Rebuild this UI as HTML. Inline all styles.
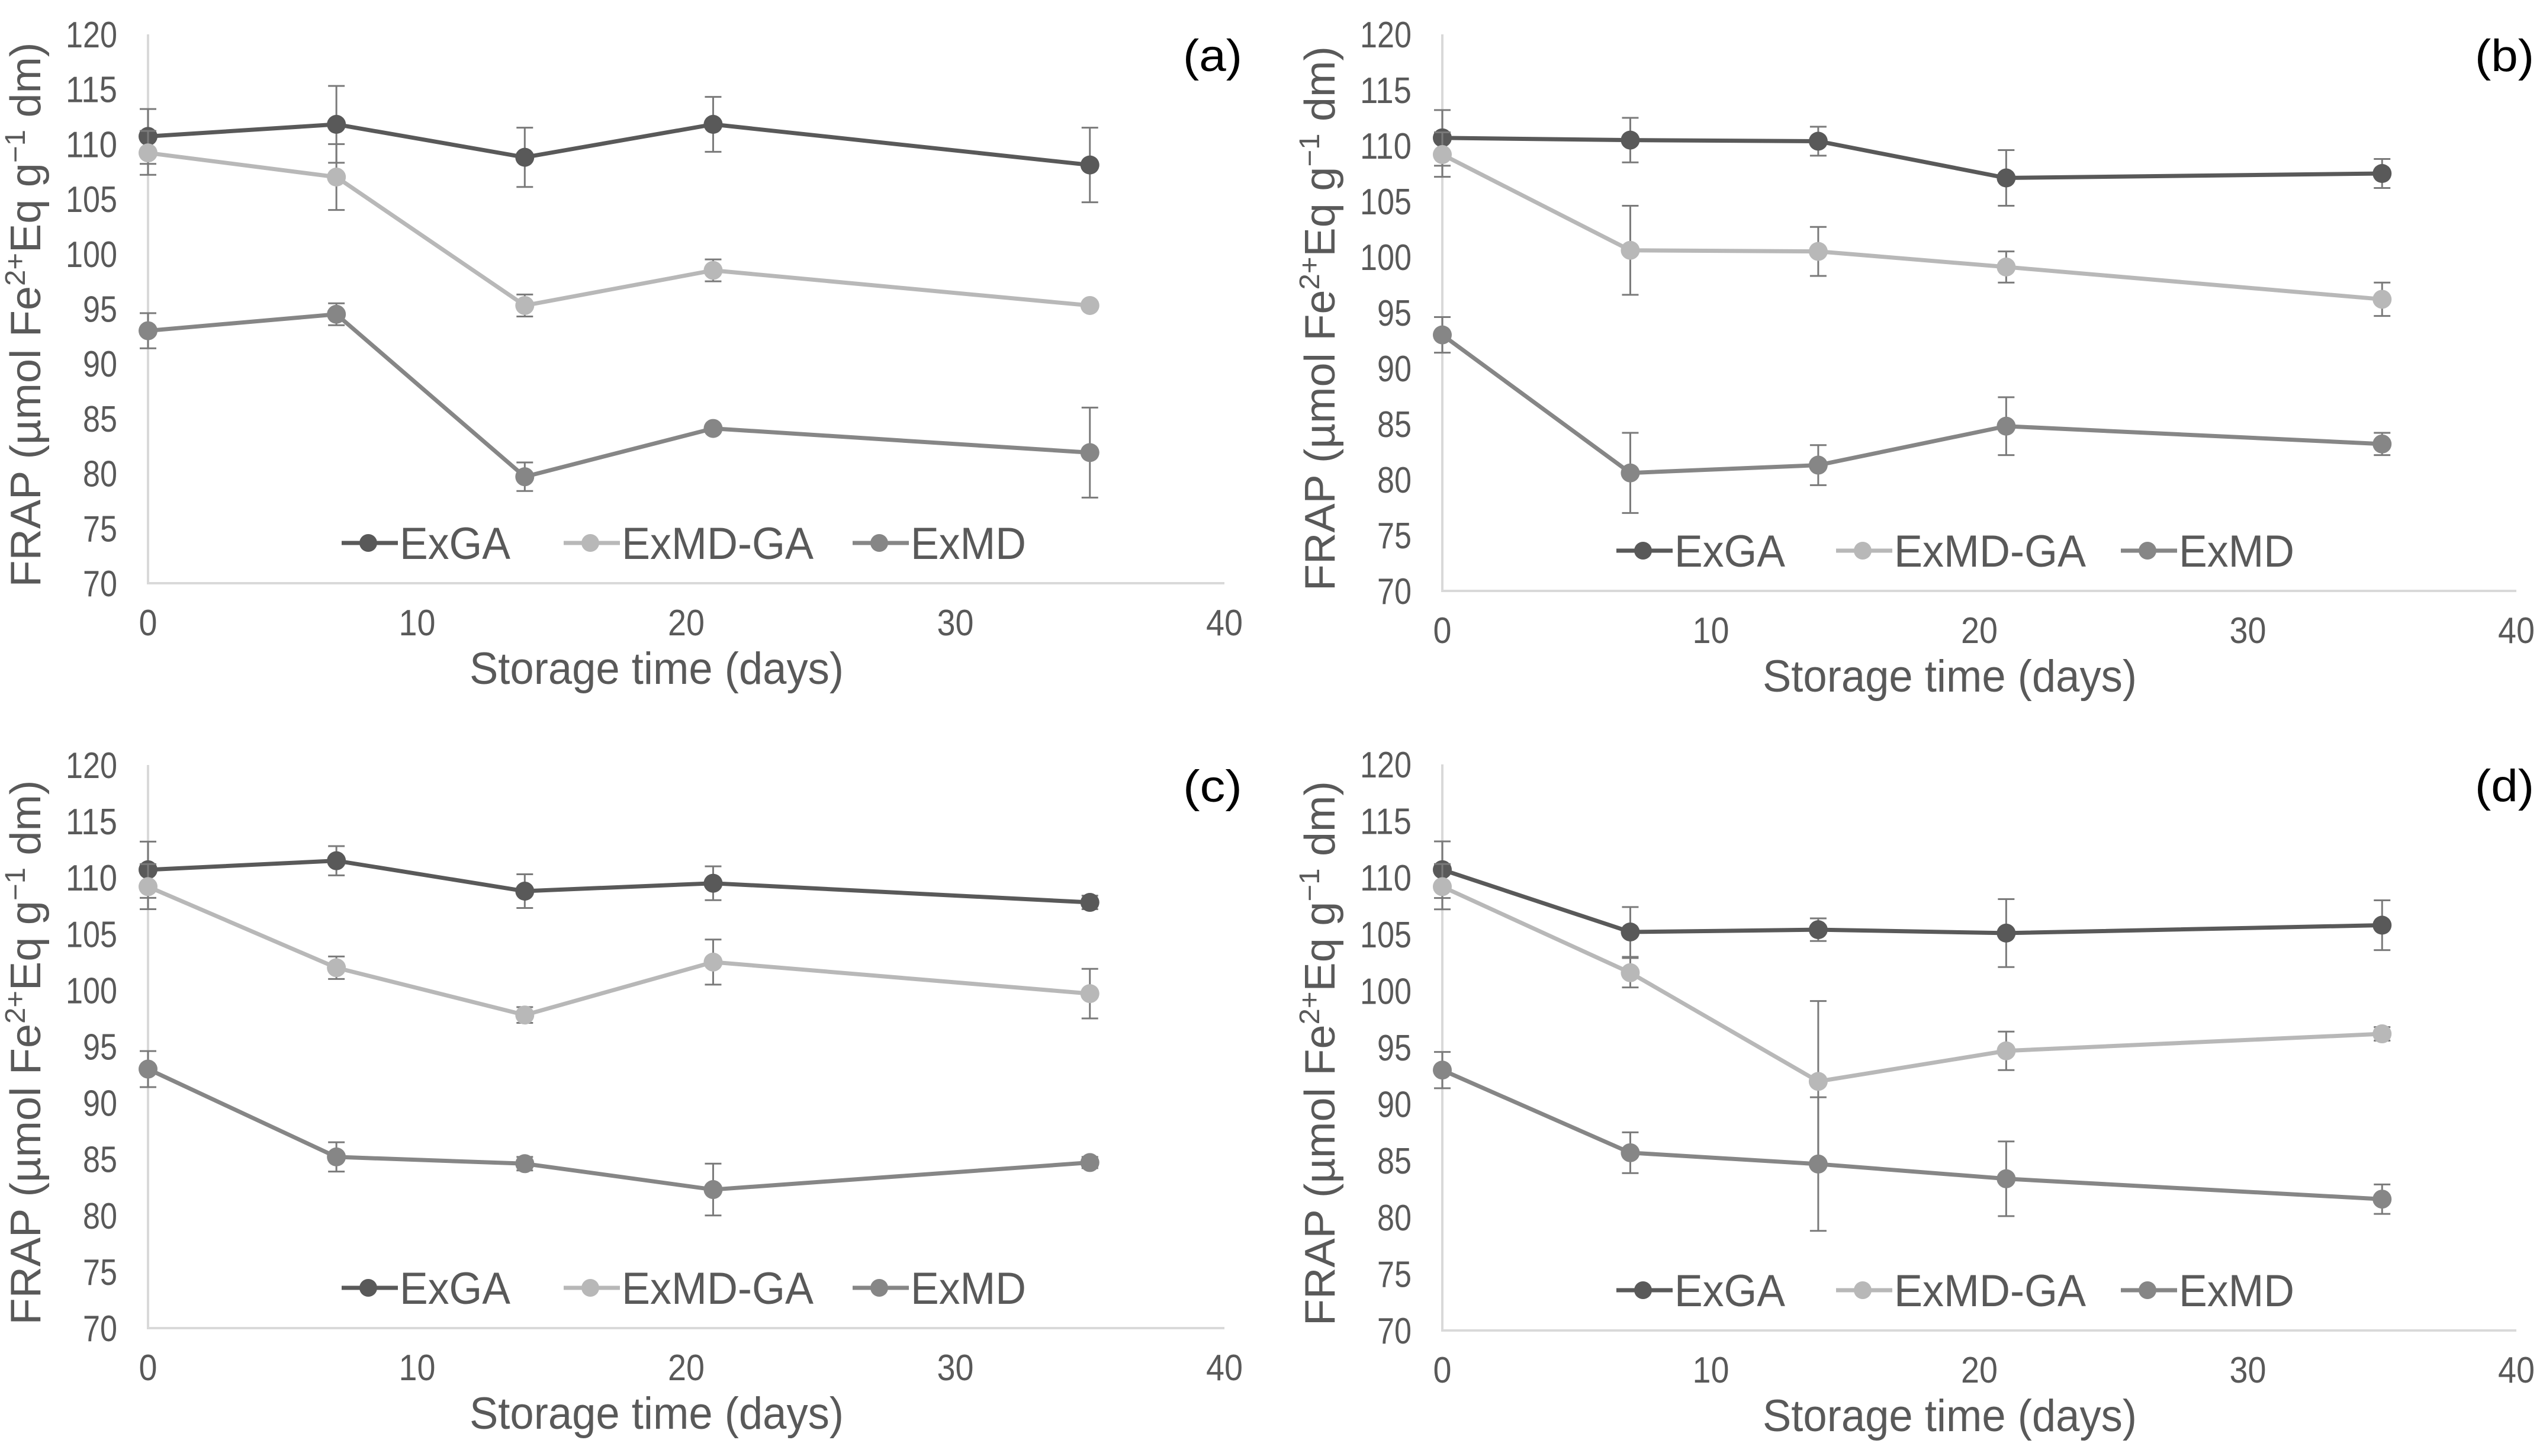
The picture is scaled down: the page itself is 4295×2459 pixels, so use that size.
<!DOCTYPE html>
<html><head><meta charset="utf-8"><style>
html,body{margin:0;padding:0;background:#fff;}
svg{display:block;}
.tick{font-family:"Liberation Sans Narrow","Liberation Sans",sans-serif;font-size:62px;fill:#595959;}
.ttl{font-family:"Liberation Sans Narrow","Liberation Sans",sans-serif;font-size:76px;fill:#595959;}
.ytl{font-family:"Liberation Sans",sans-serif;font-size:72px;fill:#595959;}
.leg{font-family:"Liberation Sans Narrow","Liberation Sans",sans-serif;font-size:76px;fill:#595959;}
.pl{font-family:"Liberation Sans Narrow","Liberation Sans",sans-serif;font-size:76px;fill:#000;}
</style></head><body>
<svg id="chart" xmlns="http://www.w3.org/2000/svg" width="4295" height="2459" viewBox="0 0 4295 2459">
<rect width="4295" height="2459" fill="#fff"/>
</svg>
<script>
const days = [0, 7, 14, 21, 35];
const seriesNames = ["ExGA", "ExMD-GA", "ExMD"];
const xTicks = [0, 10, 20, 30, 40];
const yTicks = [70, 75, 80, 85, 90, 95, 100, 105, 110, 115, 120];
const panelLabels = ["(a)", "(b)", "(c)", "(d)"];
// panel a
const aExGA = [110.7, 111.8, 108.8, 111.8, 108.1];
const aExGAErr = [2.5, 3.5, 2.7, 2.5, 3.4];
const aExMDGA = [109.2, 107.0, 95.3, 98.5, 95.3];
const aExMDGAErr = [2.0, 3.0, 1.0, 1.0, 0.3];
const aExMD = [93.0, 94.5, 79.7, 84.1, 81.9];
const aExMDErr = [1.6, 1.0, 1.3, 0.3, 4.1];
// panel b
const bExGA = [110.7, 110.5, 110.4, 107.1, 107.5];
const bExGAErr = [2.5, 2.0, 1.3, 2.5, 1.3];
const bExMDGA = [109.2, 100.6, 100.5, 99.1, 96.2];
const bExMDGAErr = [2.0, 4.0, 2.2, 1.4, 1.5];
const bExMD = [93.0, 80.6, 81.3, 84.8, 83.2];
const bExMDErr = [1.6, 3.6, 1.8, 2.6, 1.0];
// panel c
const cExGA = [110.7, 111.5, 108.8, 109.5, 107.8];
const cExGAErr = [2.5, 1.3, 1.5, 1.5, 0.6];
const cExMDGA = [109.2, 102.0, 97.8, 102.5, 99.7];
const cExMDGAErr = [2.0, 1.0, 0.7, 2.0, 2.2];
const cExMD = [93.0, 85.2, 84.6, 82.3, 84.7];
const cExMDErr = [1.6, 1.3, 0.6, 2.3, 0.5];
// panel d
const dExGA = [110.7, 105.2, 105.4, 105.1, 105.8];
const dExGAErr = [2.5, 2.2, 1.0, 3.0, 2.2];
const dExMDGA = [109.2, 101.6, 92.0, 94.7, 96.2];
const dExMDGAErr = [2.0, 1.3, 7.1, 1.7, 0.6];
const dExMD = [93.0, 85.7, 84.7, 83.4, 81.6];
const dExMDErr = [1.6, 1.8, 5.9, 3.3, 1.3];

const panelData = [
  [[aExGA, aExGAErr], [aExMDGA, aExMDGAErr], [aExMD, aExMDErr]],
  [[bExGA, bExGAErr], [bExMDGA, bExMDGAErr], [bExMD, bExMDErr]],
  [[cExGA, cExGAErr], [cExMDGA, cExMDGAErr], [cExMD, cExMDErr]],
  [[dExGA, dExGAErr], [dExMDGA, dExMDGAErr], [dExMD, dExMDErr]]
];
const colors = ["#595959", "#b8b8b8", "#868686"];
const boxes = [
  {l: 250, r: 2068, t: 58, b: 985},
  {l: 2436, r: 4250, t: 58, b: 998},
  {l: 250, r: 2068, t: 1292, b: 2243},
  {l: 2436, r: 4250, t: 1291, b: 2247}
];
const legOffs = [[327, 702, 1190], [294, 665, 1146], [327, 702, 1190], [294, 665, 1146]];
const NS = "http://www.w3.org/2000/svg";
const svg = document.getElementById("chart");
function mk(tag, attrs, parent, text) {
  const e = document.createElementNS(NS, tag);
  for (const k in attrs) e.setAttribute(k, attrs[k]);
  if (text !== undefined) e.textContent = text;
  (parent || svg).appendChild(e);
  return e;
}
boxes.forEach((bx, pi) => {
  const g = mk("g", {});
  
  
  const xs = v => bx.l + (v - 0) / 40 * (bx.r - bx.l);
  const ys = v => bx.b - (v - 70) / 50 * (bx.b - bx.t);
  const ax = mk("path", {d: `M${bx.l} ${bx.t}V${bx.b}H${bx.r}`, stroke: "#d9d9d9", "stroke-width": 4, fill: "none"}, g);
  
  
  yTicks.forEach(t => {
    const s = String(t);
    const e = mk("text", {x: bx.l - 52, y: ys(t) + 22, "text-anchor": "end", class: "tick", textLength: s.length * 29, lengthAdjust: "spacingAndGlyphs"}, g, s);
    
    
  });
  xTicks.forEach(t => {
    const s = String(t);
    const e = mk("text", {x: xs(t), y: bx.b + 88, "text-anchor": "middle", class: "tick", textLength: s.length * 31, lengthAdjust: "spacingAndGlyphs"}, g, s);
    
    
  });
  const xt = mk("text", {x: (bx.l + bx.r) / 2 - 50, y: bx.b + 170, "text-anchor": "middle", class: "ttl", textLength: 632, lengthAdjust: "spacingAndGlyphs"}, g, "Storage time (days)");
  
  
  const cy = (bx.t + bx.b) / 2 + 10, cx = bx.l - 182;
  const yt = mk("text", {x: cx, y: cy, "text-anchor": "middle", class: "ytl", textLength: 920, lengthAdjust: "spacingAndGlyphs", transform: `rotate(-90 ${cx} ${cy})`}, g);
  
  
  yt.innerHTML = 'FRAP (µmol Fe<tspan dy="-26" font-size="48">2+</tspan><tspan dy="26">Eq g</tspan><tspan dy="-26" font-size="48">−1</tspan><tspan dy="26">  dm)</tspan>';
  const pl = mk("text", {x: bx.r - 20, y: bx.t + 62, "text-anchor": "middle", class: "pl", textLength: 100, lengthAdjust: "spacingAndGlyphs"}, g, panelLabels[pi]);
  
  
  panelData[pi].forEach((sd, si) => {
    const [vals, errs] = sd;
    const sg = mk("g", {}, g);
    
    
    vals.forEach((v, i) => {
      const x = xs(days[i]);
      const e = mk("path", {d: `M${x} ${ys(v + errs[i])}V${ys(v - errs[i])}M${x - 14} ${ys(v + errs[i])}H${x + 14}M${x - 14} ${ys(v - errs[i])}H${x + 14}`, stroke: "#7a7a7a", "stroke-width": 3, fill: "none"}, sg);
      
      
    });
    const line = mk("polyline", {points: vals.map((v, i) => xs(days[i]) + "," + ys(v)).join(" "), stroke: colors[si], "stroke-width": 7, fill: "none", "stroke-linejoin": "round"}, sg);
    
    
    vals.forEach((v, i) => {
      const c = mk("circle", {cx: xs(days[i]), cy: ys(v), r: 16, fill: colors[si]}, sg);
      
      
    });
  });
  // legend
  const ly = bx.b - 68;
  const offs = legOffs[pi];
  const tl = [187, 324, 195];
  const lg = mk("g", {}, g);
  
  
  seriesNames.forEach((n, si) => {
    const x0 = bx.l + offs[si];
    const le = mk("g", {}, lg);
    
    
    mk("line", {x1: x0, y1: ly, x2: x0 + 95, y2: ly, stroke: colors[si], "stroke-width": 7}, le);
    mk("circle", {cx: x0 + 45, cy: ly, r: 15, fill: colors[si]}, le);
    mk("text", {x: x0 + 98, y: ly + 27, class: "leg", textLength: tl[si], lengthAdjust: "spacingAndGlyphs"}, le, n);
  });
});
</script>
</body></html>
